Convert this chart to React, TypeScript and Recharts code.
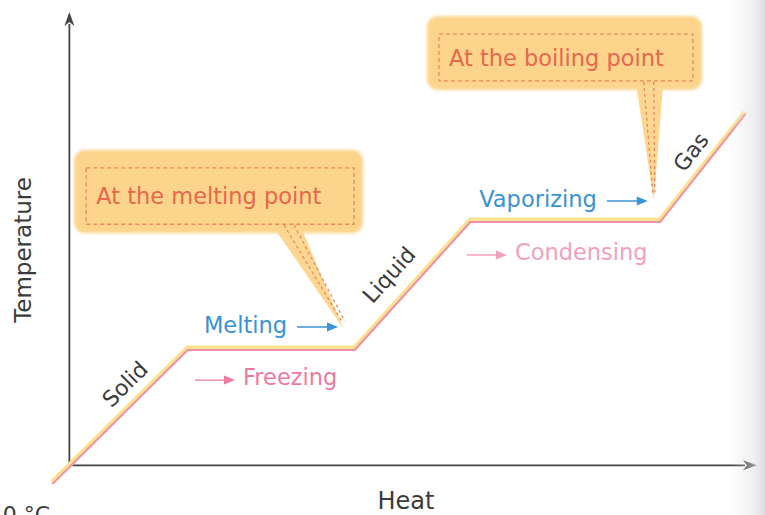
import React from 'react';
import {
  LineChart,
  Line,
  XAxis,
  YAxis,
  ReferenceLine,
  ReferenceDot,
  ReferenceArea,
} from 'recharts';

// Heating curve: heat added (x) against temperature (y), arbitrary units 0–100.
const heat = [-2.5, 17.2, 41.5, 58.3, 85.9, 98.3];
const temperature = [-3.7, 25.9, 25.9, 54.1, 54.1, 77.9];

// Phase names written along the rising segments.
const phaseNames = ['Solid', 'Liquid', 'Gas'];
const phaseAnchorsHeat = [8.1, 46.5, 90.4];
const phaseAnchorsTemp = [17.9, 42.0, 69.1];
const phaseAngles = [-45, -48, -52];

// Process labels on the plateaus.
const processNames = ['Melting', 'Freezing', 'Vaporizing', 'Condensing'];

// Callouts for the two plateaus.
const calloutTexts = ['At the melting point', 'At the boiling point'];

const data = heat.map((h, i) => ({ heat: h, temp: temperature[i] }));

const FONT = '"DejaVu Sans", "Open Sans", sans-serif';
const DARK = '#3b3b3b';
const BLUE = '#3a93d6';
const PINK = '#ee7aa2';
const PINK_LIGHT = '#f2a0bd';
const BOX_FILL = '#fdd48c';
const BOX_DASH = '#e98a5c';
const BOX_TEXT = '#e7684c';

const processLabels = [
  { text: processNames[0], h: 31.65, t: 29.2, color: BLUE, arrow: 'after' },
  { text: processNames[1], h: 25.25, t: 17.7, color: PINK, arrow: 'before' },
  { text: processNames[2], h: 76.7, t: 57.0, color: BLUE, arrow: 'after' },
  { text: processNames[3], h: 64.8, t: 45.3, color: PINK_LIGHT, arrow: 'before' },
];

const callouts = [
  {
    text: calloutTexts[0],
    h1: 0.7, h2: 42.7, t1: 51.2, t2: 69.6,
    baseH: 32.1, tipH: 39.9, tipT: 30.1,
  },
  {
    text: calloutTexts[1],
    h1: 52.0, h2: 92.0, t1: 82.8, t2: 99.1,
    baseH: 84.4, tipH: 85.0, tipT: 58.5,
  },
];

const AxisArrow = (props: any) => {
  const { x1, y1, x2, y2 } = props;
  const a = Math.atan2(y2 - y1, x2 - x1);
  const len = 14;
  const half = 5;
  const bx = x2 - len * Math.cos(a);
  const by = y2 - len * Math.sin(a);
  const px = -Math.sin(a) * half;
  const py = Math.cos(a) * half;
  return (
    <g>
      <line x1={x1} y1={y1} x2={bx + 2 * Math.cos(a)} y2={by + 2 * Math.sin(a)} stroke="#444" strokeWidth={1.8} />
      <polygon
        points={`${x2},${y2} ${bx + px},${by + py} ${bx + 4 * Math.cos(a)},${by + 4 * Math.sin(a)} ${bx - px},${by - py}`}
        fill="#444"
      />
    </g>
  );
};

const smallArrow = (x1: number, x2: number, y: number, color: string) => (
  <g>
    <line x1={x1} y1={y} x2={x2 - 8} y2={y} stroke={color} strokeWidth={1.4} />
    <polygon points={`${x2},${y} ${x2 - 11},${y - 4.5} ${x2 - 11},${y + 4.5}`} fill={color} />
  </g>
);

const makeProcessShape = (lbl: typeof processLabels[number]) => (p: any) => {
  const { cx, cy } = p;
  if (lbl.arrow === 'after') {
    return (
      <g>
        <text x={cx} y={cy} textAnchor="end" fontFamily={FONT} fontSize={22.5} fill={lbl.color}>
          {lbl.text}
        </text>
        {smallArrow(cx + 10, cx + 51, cy - 6, lbl.color)}
      </g>
    );
  }
  return (
    <g>
      {smallArrow(cx - 48, cx - 8, cy - 5, lbl.color)}
      <text x={cx} y={cy} textAnchor="start" fontFamily={FONT} fontSize={22.5} fill={lbl.color}>
        {lbl.text}
      </text>
    </g>
  );
};

const makePhaseShape = (i: number) => (p: any) => {
  const { cx, cy } = p;
  return (
    <text
      x={cx}
      y={cy}
      textAnchor="middle"
      dominantBaseline="central"
      transform={`rotate(${phaseAngles[i]} ${cx} ${cy})`}
      fontFamily={FONT}
      fontSize={22}
      fill={DARK}
    >
      {phaseNames[i]}
    </text>
  );
};

const makeBoxShape = (text: string, id: string) => (p: any) => {
  const { x, y, width, height } = p;
  const ix = x + 12;
  const iy = y + 18;
  const iw = width - 21;
  const ih = height - 27;
  return (
    <g>
      <defs>
        <filter id={id} x="-10%" y="-20%" width="120%" height="140%">
          <feGaussianBlur stdDeviation="1.6" />
        </filter>
      </defs>
      <rect x={x} y={y} width={width} height={height} rx={11} ry={11} fill={BOX_FILL} filter={`url(#${id})`} />
      <rect
        x={ix}
        y={iy}
        width={iw}
        height={ih}
        fill="none"
        stroke={BOX_DASH}
        strokeWidth={1.3}
        strokeDasharray="4 3"
      />
      <text
        x={ix + 10}
        y={iy + ih / 2}
        dominantBaseline="central"
        fontFamily={FONT}
        fontSize={22.5}
        fill={BOX_TEXT}
      >
        {text}
      </text>
    </g>
  );
};

const TailShape = (p: any) => {
  const { x1, y1, x2, y2 } = p;
  const half = 13;
  return (
    <g>
      <polygon points={`${x1 - half},${y1 - 1} ${x1 + half},${y1 - 1} ${x2},${y2}`} fill={BOX_FILL} opacity={0.95} />
      <line x1={x1 - 6} y1={y1 - 8} x2={x2 - 1} y2={y2 - 6} stroke={BOX_DASH} strokeWidth={1.3} strokeDasharray="3 3" />
      <line x1={x1 + 4} y1={y1 - 8} x2={x2 + 1} y2={y2 - 8} stroke={BOX_DASH} strokeWidth={1.3} strokeDasharray="3 3" />
    </g>
  );
};

const TitleShape = (text: string, rotate: boolean) => (p: any) => {
  const { cx, cy } = p;
  return (
    <text
      x={cx}
      y={cy}
      textAnchor="middle"
      transform={rotate ? `rotate(-90 ${cx} ${cy})` : undefined}
      fontFamily={FONT}
      fontSize={rotate ? 23 : 24}
      fill={DARK}
    >
      {text}
    </text>
  );
};

const PlainText = (text: string) => (p: any) => (
  <text x={p.cx} y={p.cy} textAnchor="start" fontFamily={FONT} fontSize={22} fill={DARK}>
    {text}
  </text>
);

export default function App() {
  return (
    <div style={{ position: 'absolute', left: 0, top: 0, width: 765, height: 515, background: '#fff', overflow: 'hidden' }}>
      <style>{`.pink-curve { transform: translate(0px, 2px); }`}</style>
      <LineChart
        width={765}
        height={515}
        data={data}
        margin={{ top: 12, right: 8, bottom: 27, left: 35 }}
      >
        <XAxis dataKey="heat" type="number" domain={[-5, 100]} hide />
        <YAxis type="number" domain={[-5, 100]} hide />

        {/* axes with arrowheads */}
        <ReferenceLine
          segment={[{ x: 0, y: 0 }, { x: 0, y: 100 }]}
          shape={AxisArrow}
          ifOverflow="visible"
        />
        <ReferenceLine
          segment={[{ x: 0, y: 0 }, { x: 100, y: 0 }]}
          shape={AxisArrow}
          ifOverflow="visible"
        />

        {/* callouts */}
        {callouts.map((c, i) => (
          <ReferenceArea
            key={`box-${i}`}
            x1={c.h1}
            x2={c.h2}
            y1={c.t1}
            y2={c.t2}
            ifOverflow="visible"
            shape={makeBoxShape(c.text, `soft-${i}`)}
          />
        ))}
        {callouts.map((c, i) => (
          <ReferenceLine
            key={`tail-${i}`}
            segment={[{ x: c.baseH, y: c.t1 }, { x: c.tipH, y: c.tipT }]}
            shape={TailShape}
            ifOverflow="visible"
          />
        ))}

        {/* heating curve drawn as a yellow band with a pink edge */}
        <Line
          dataKey="temp"
          type="linear"
          stroke="#f9e38c"
          strokeWidth={5}
          dot={false}
          isAnimationActive={false}
        />
        <Line
          dataKey="temp"
          type="linear"
          className="pink-curve"
          stroke="#f08fb2"
          strokeWidth={2}
          dot={false}
          isAnimationActive={false}
        />

        {phaseNames.map((_, i) => (
          <ReferenceDot
            key={`phase-${i}`}
            x={phaseAnchorsHeat[i]}
            y={phaseAnchorsTemp[i]}
            ifOverflow="visible"
            shape={makePhaseShape(i)}
          />
        ))}

        {processLabels.map((lbl, i) => (
          <ReferenceDot
            key={`proc-${i}`}
            x={lbl.h}
            y={lbl.t}
            ifOverflow="visible"
            shape={makeProcessShape(lbl)}
          />
        ))}

        <ReferenceDot x={-5.6} y={47.5} ifOverflow="visible" shape={TitleShape('Temperature', true)} />
        <ReferenceDot x={48.95} y={-9.6} ifOverflow="visible" shape={TitleShape('Heat', false)} />
        <ReferenceDot x={-9.7} y={-12.5} ifOverflow="visible" shape={PlainText('0 °C')} />
      </LineChart>
      <div
        style={{
          position: 'absolute',
          right: 0,
          top: 0,
          width: 34,
          height: 515,
          pointerEvents: 'none',
          background: 'linear-gradient(to right, rgba(225,222,226,0) 0%, rgba(225,222,226,0.55) 70%, rgba(215,212,218,0.8) 100%)',
        }}
      />
    </div>
  );
}
